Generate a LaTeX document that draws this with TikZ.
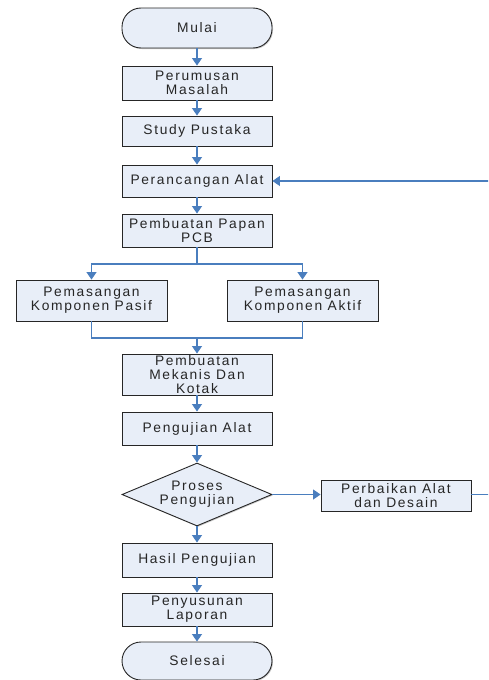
\documentclass[tikz,border=0pt]{standalone}
\usepackage{fontspec}
\setmainfont{Liberation Sans}[LetterSpace=12]
\usetikzlibrary{shapes.geometric,arrows.meta,shadows}
\definecolor{boxfill}{HTML}{E8EEF8}
\definecolor{flowblue}{HTML}{4A7EBE}
\begin{document}
\begin{tikzpicture}[x=1pt,y=-1pt,
  font=\fontsize{13.8}{14}\selectfont,
  base/.style={draw=black!85, line width=0.9pt, fill=boxfill, align=center,
    inner sep=1pt, text=black!85, drop shadow={shadow xshift=1pt, shadow yshift=-1pt, fill=black!35, opacity=0.6}},
  procbox/.style={base, rectangle, minimum width=150pt},
  termbox/.style={base, rectangle, rounded corners=19pt, minimum width=150pt},
  decbox/.style={base, diamond, aspect=2.4, minimum width=150pt, minimum height=63pt},
  flow/.style={draw=flowblue, line width=1.1pt, -{Triangle[width=10pt,length=7.5pt]}},
  link/.style={draw=flowblue, line width=1.1pt}]
\useasboundingbox (0,0) rectangle (488,680);
\clip (0,0) rectangle (488,680);

% main column
\node[termbox, minimum height=40pt] (mulai) at (197,28) {Mulai};
\node[procbox, minimum height=34pt] (rumus) at (197,83) {Perumusan\\Masalah};
\node[procbox, minimum height=30pt] (studi) at (197,131) {Study Pustaka};
\node[procbox, minimum height=32pt] (rancang) at (197,181) {Perancangan Alat};
\node[procbox, minimum height=33pt] (pcb) at (197,230.5) {Pembuatan Papan\\PCB};

% parallel assembly steps
\node[procbox, minimum width=151pt, minimum height=41pt] (pasif) at (91.5,300.5) {Pemasangan\\Komponen Pasif};
\node[procbox, minimum width=151pt, minimum height=41pt] (aktif) at (302.5,300.5) {Pemasangan\\Komponen Aktif};

\node[procbox, minimum height=41pt] (mekanis) at (197,374.5) {};
\node[fill=boxfill, text=black!85, align=center, inner xsep=3pt, inner ysep=0pt] (mekanistxt) at (mekanis.center) {Pembuatan\\Mekanis Dan\\Kotak};

\node[procbox, minimum height=33pt] (uji) at (197,428.5) {Pengujian Alat};
\node[decbox] (proses) at (197,494.5) {Proses\\Pengujian};
\node[procbox, minimum height=31pt] (perbaikan) at (396,495.5) {Perbaikan Alat\\dan Desain};
\node[procbox, minimum height=34pt] (hasil) at (197,560) {Hasil Pengujian};
\node[procbox, minimum height=33pt] (susun) at (197,609.5) {Penyusunan\\Laporan};
\node[termbox, minimum height=38pt] (selesai) at (197,661) {Selesai};

% connectors
\draw[flow] (mulai) -- (rumus);
\draw[flow] (rumus) -- (studi);
\draw[flow] (studi) -- (rancang);
\draw[flow] (rancang) -- (pcb);

\coordinate (split) at (197,264);
\coordinate (merge) at (197,338);
\draw[link] (pcb.south) -- (split);
\draw[flow] (split) -| (pasif.north);
\draw[flow] (split) -| (aktif.north);
\draw[link] (pasif.south) |- (merge);
\draw[link] (aktif.south) |- (merge);
\draw[flow] (merge) -- (mekanis.north);

\draw[flow] (mekanis) -- (uji);
\draw[flow] (uji) -- (proses);
\draw[flow] (proses.east) -- (proses.east -| perbaikan.west);
\draw[flow] (proses) -- (hasil);
\draw[flow] (hasil) -- (susun);
\draw[flow] (susun) -- (selesai);

% loop back from repair to design
\coordinate (loopcorner) at (492,494.5);
\draw[flow] (perbaikan.east |- proses.east) -- (loopcorner) |- (rancang.east);
\end{tikzpicture}
\end{document}
